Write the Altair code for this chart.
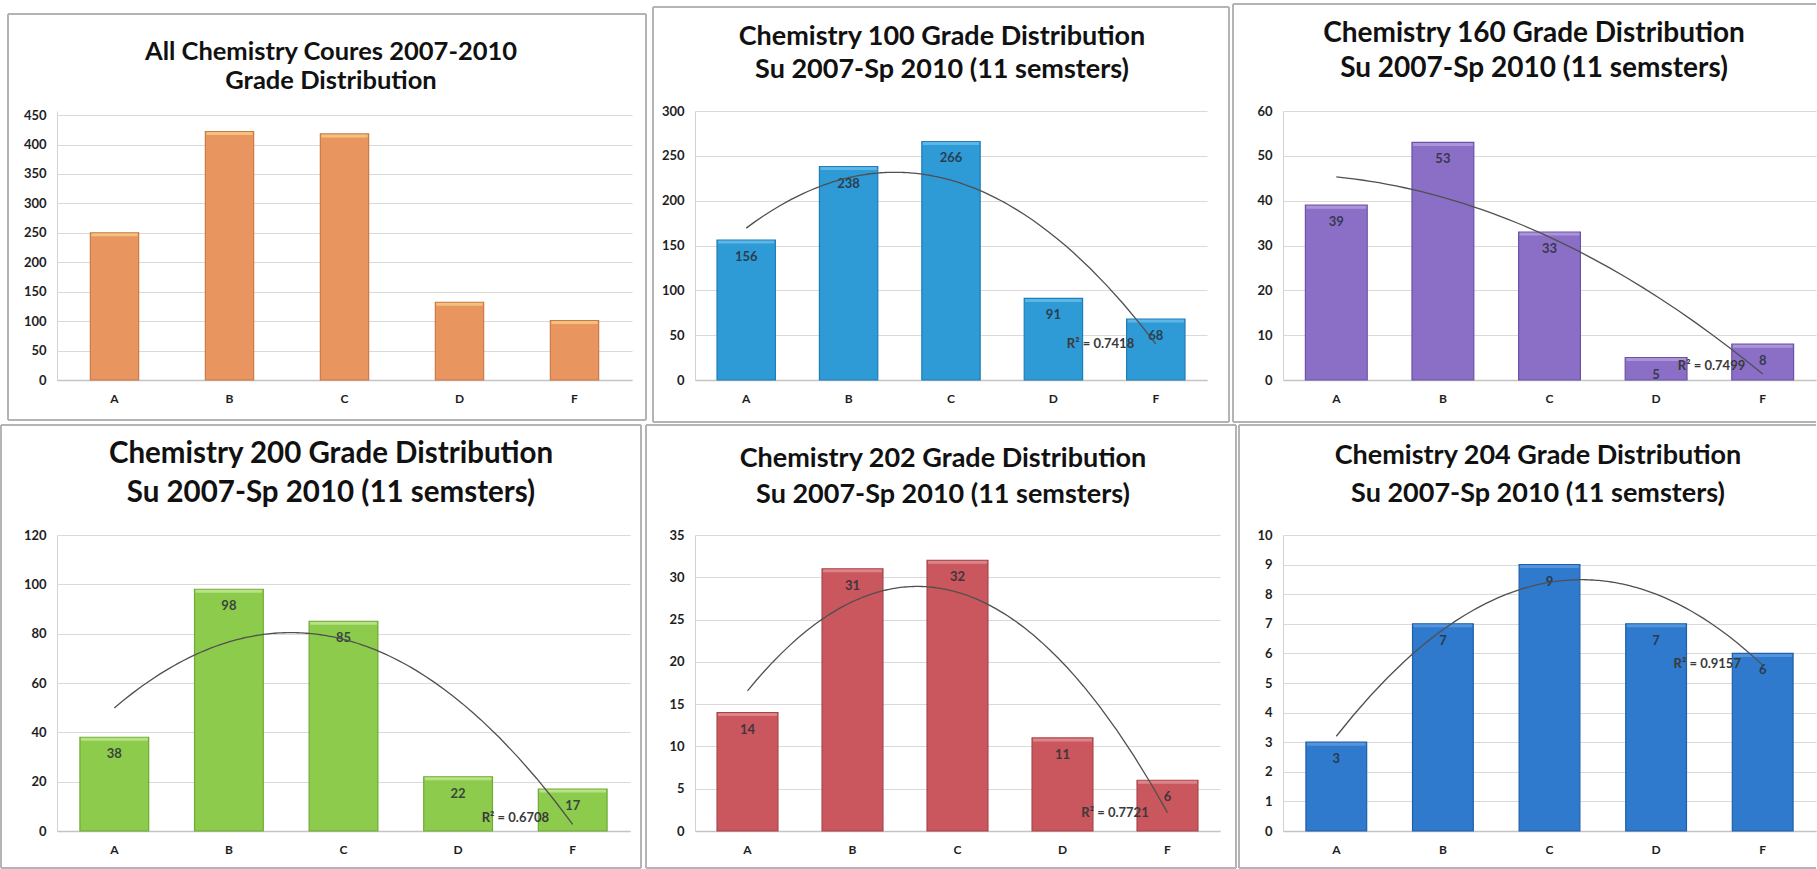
import altair as alt
import pandas as pd

FONT = "Lato"

grades = ["A", "B", "C", "D", "F"]
grade_pos = [1, 2, 3, 4, 5]

# Grade counts per course
all_courses = [250, 422, 418, 132, 101]
chem100 = [156, 238, 266, 91, 68]
chem160 = [39, 53, 33, 5, 8]
chem200 = [38, 98, 85, 22, 17]
chem202 = [14, 31, 32, 11, 6]
chem204 = [3, 7, 9, 7, 6]

# Y-axis tick labels per course
ticks_all = [0, 50, 100, 150, 200, 250, 300, 350, 400, 450]
ticks_100 = [0, 50, 100, 150, 200, 250, 300]
ticks_160 = [0, 10, 20, 30, 40, 50, 60]
ticks_200 = [0, 20, 40, 60, 80, 100, 120]
ticks_202 = [0, 5, 10, 15, 20, 25, 30, 35]
ticks_204 = [0, 1, 2, 3, 4, 5, 6, 7, 8, 9, 10]

subtitle = "Su 2007-Sp 2010 (11 semsters)"
title_all = ["All Chemistry Coures 2007-2010", "Grade Distribution"]
title_100 = ["Chemistry 100 Grade Distribution", subtitle]
title_160 = ["Chemistry 160 Grade Distribution", subtitle]
title_200 = ["Chemistry 200 Grade Distribution", subtitle]
title_202 = ["Chemistry 202 Grade Distribution", subtitle]
title_204 = ["Chemistry 204 Grade Distribution", subtitle]

# Goodness of fit of the quadratic trend lines
r2_100 = "R² = 0.7418"
r2_160 = "R² = 0.7499"
r2_200 = "R² = 0.6708"
r2_202 = "R² = 0.7721"
r2_204 = "R² = 0.9157"

ONE = pd.DataFrame({"k": [0]})


def frame_rule(x0, y0, x1, y1, color="#B4B4B4"):
    return alt.Chart(ONE).mark_rule(color=color, strokeWidth=2).encode(
        x=alt.value(x0), x2=alt.value(x1), y=alt.value(y0), y2=alt.value(y1)
    )


def title_line(text, x, y, size):
    return alt.Chart(ONE).mark_text(
        text=text, fontSize=size, font=FONT, fontWeight="bold", color="#111111",
        align="center", baseline="middle"
    ).encode(x=alt.value(x), y=alt.value(y))


def panel(counts, ticks, title, width, height, inner_pad, fill, edge, cap,
          frame, title_x, title_y, title_size, y_top=None,
          r2=None, r2_at=None, labels=True, right_border=True):
    df = pd.DataFrame({"grade": grades, "pos": grade_pos, "count": counts})
    base = alt.Chart(df)
    y_max = y_top if y_top is not None else ticks[-1]
    bar_w = width / 5 * (1 - inner_pad)

    band = alt.Scale(paddingInner=inner_pad, paddingOuter=inner_pad / 2)
    y_scale = alt.Scale(domain=[0, y_max], nice=False, zero=True)
    x_axis = alt.X(
        "grade:N", sort=grades, scale=band,
        axis=alt.Axis(title=None, labelAngle=0, labelFontSize=12,
                      labelFont=FONT, labelFontWeight="bold", labelColor="#1e1e1e",
                      labelPadding=13, ticks=False, domain=True,
                      domainColor="#C4C4C4", domainWidth=1.5, grid=False),
    )
    x_plain = alt.X("grade:N", sort=grades, scale=band, axis=None)
    y_enc = alt.Y(
        "count:Q", scale=y_scale,
        axis=alt.Axis(title=None, values=ticks, tickCount=len(ticks),
                      labelFontSize=13, labelFont=FONT,
                      labelFontWeight="bold", labelColor="#1e1e1e", labelPadding=11,
                      labelOverlap=False, ticks=False, domain=True,
                      domainColor="#D2D2D2", gridColor="#DADADA", gridWidth=1.2),
    )
    xq = alt.X("pos:Q", scale=alt.Scale(domain=[0.5, 5.5], nice=False, zero=False),
               axis=None)

    layers = [
        base.mark_bar(fill=fill, stroke=edge, strokeWidth=1.2).encode(x=x_axis, y=y_enc),
        base.mark_tick(color=cap, thickness=3, size=bar_w - 2, yOffset=2).encode(
            x=x_plain, y="count:Q"),
    ]
    if labels:
        layers.append(
            base.mark_text(dy=17, fontSize=13, font=FONT, fontWeight="bold",
                           color="#2a2f3a", opacity=0.85).encode(
                x=x_plain, y="count:Q", text="count:Q")
        )
        layers.append(
            base.transform_regression("pos", "count", method="poly", order=2,
                                      extent=[1, 5])
            .mark_line(color="#505050", strokeWidth=1.3)
            .encode(x=xq, y="count:Q")
        )
    if r2 is not None:
        r2_df = pd.DataFrame({"pos": [r2_at[0]], "count": [r2_at[1]], "t": [r2]})
        layers.append(
            alt.Chart(r2_df).mark_text(fontSize=13, font=FONT, fontWeight="bold",
                                       color="#3a3a3a").encode(
                x=xq, y="count:Q", text="t:N")
        )

    fx0, fy0, fx1, fy1 = frame
    layers += [
        frame_rule(fx0, fy0, fx1, fy0),
        frame_rule(fx0, fy0, fx0, fy1),
        frame_rule(fx0, fy1, fx1, fy1),
    ]
    if right_border:
        layers.append(frame_rule(fx1, fy0, fx1, fy1))

    layers.append(title_line(title[0], title_x, title_y[0], title_size))
    layers.append(title_line(title[1], title_x, title_y[1], title_size))

    return alt.layer(*layers).resolve_scale(x="independent").properties(
        width=width, height=height)


H1, H2 = 269, 296

p1 = panel(all_courses, ticks_all, title_all, 575, H1, 0.58,
           "#E8955F", "#C97A47", "#F7D68C", (-49, -97, 589, 309),
           title_x=274, title_y=(-59, -30), title_size=25.5, y_top=457,
           labels=False)
p2 = panel(chem100, ticks_100, title_100, 512, H1, 0.43,
           "#2E9AD6", "#1F7DB7", "#72C3EC", (-42, -104, 534, 311),
           title_x=247, title_y=(-74, -41), title_size=27,
           r2=r2_100, r2_at=(4.46, 40))
p3 = panel(chem160, ticks_160, title_160, 533, H1, 0.42,
           "#8B6FC6", "#6C52A6", "#B9A5E2", (-50, -107, 533, 311),
           title_x=251, title_y=(-77, -42), title_size=28,
           r2=r2_160, r2_at=(4.52, 3.2), right_border=False)
p4 = panel(chem200, ticks_200, title_200, 573, H2, 0.40,
           "#8DCB4D", "#6FAA33", "#CBEB9E", (-56, -110, 584, 333),
           title_x=274, title_y=(-81, -42), title_size=29.5,
           r2=r2_200, r2_at=(4.5, 5.4))
p5 = panel(chem202, ticks_202, title_202, 525, H2, 0.42,
           "#C9575D", "#A94248", "#E69A9D", (-49, -110, 541, 333),
           title_x=248, title_y=(-76, -40), title_size=27,
           r2=r2_202, r2_at=(4.5, 2.1))
p6 = panel(chem204, ticks_204, title_204, 533, H2, 0.43,
           "#2F7ACD", "#1F5FA9", "#62A0E2", (-44, -110, 533, 333),
           title_x=255, title_y=(-79, -41), title_size=27,
           r2=r2_204, r2_at=(4.48, 5.63), right_border=False)

chart = (
    alt.concat(p1, p2, p3, p4, p5, p6, columns=3,
               spacing={"row": 155, "column": 63}, bounds="flush")
    .properties(padding={"left": 0, "top": 3, "right": 0, "bottom": 0},
                background="white")
    .configure_view(stroke=None)
    .configure_axis(labelOverlap=False)
    .configure_axisY(labelOverlap=False)
)

chart.save("out.html", embed_options={"renderer": "svg", "actions": False})
